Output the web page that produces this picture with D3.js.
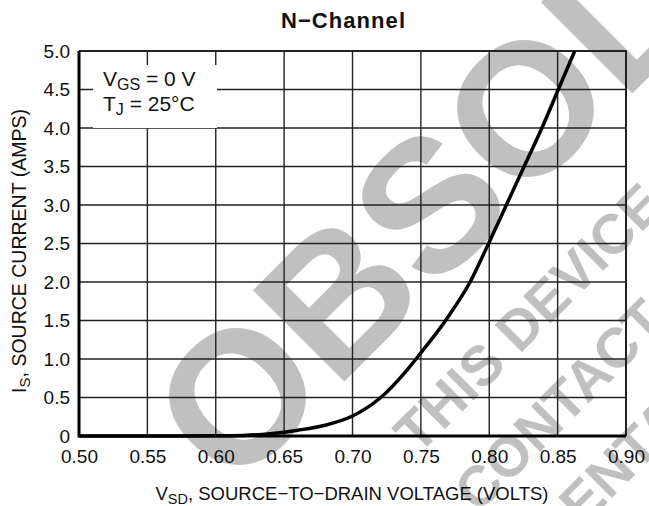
<!DOCTYPE html>
<html><head><meta charset="utf-8">
<script src="https://cdn.jsdelivr.net/npm/d3@7"></script>
<style>html,body{margin:0;padding:0;background:#fff}svg{display:block;font-family:"Liberation Sans",Arial,sans-serif}</style>
</head><body>
<svg id="c" width="649" height="506"></svg>
<script>
// ---- data ----
const vsd = [0.50,0.55,0.60,0.62,0.64,0.65,0.66,0.68,0.70,0.72,0.74,0.75,0.77,0.786,0.7995,0.8125,0.8255,0.8385,0.8505,0.8625];
const isrc = [0,0,0.003,0.008,0.03,0.05,0.075,0.14,0.26,0.49,0.86,1.08,1.55,2.0,2.5,3.0,3.5,4.0,4.5,5.0];
const xTicks = [0.50,0.55,0.60,0.65,0.70,0.75,0.80,0.85,0.90];
const yTicks = [0,0.5,1.0,1.5,2.0,2.5,3.0,3.5,4.0,4.5,5.0];
const titleText = "N\u2212Channel";
const watermark = ["OBSOLETE","THIS DEVICE IS OBSOLETE","CONTACT YOUR ON SEMICONDUCTOR","REPRESENTATIVE FOR INFORMATION"];

const svg = d3.select("#c");
const L=79,R=626,T=51,B=436;
const x = d3.scaleLinear().domain([0.5,0.9]).range([L,R]);
const y = d3.scaleLinear().domain([0,5]).range([B,T]);
const WF = "Liberation Sans, Arial, sans-serif";

// watermark (behind everything)
const wm = svg.append("g").attr("fill","#c0c0c0").attr("font-weight","bold").attr("font-family",WF);
wm.append("text").attr("transform","translate(232,494) rotate(-45)").attr("font-size",188).text(watermark[0]);
wm.append("text").attr("transform","translate(418,456) rotate(-45)").attr("font-size",56).text(watermark[1]);
wm.append("text").attr("transform","translate(478,514) rotate(-45)").attr("font-size",56).text(watermark[2]);
wm.append("text").attr("transform","translate(420,690) rotate(-45)").attr("font-size",56).text(watermark[3]);

// grid
const g = svg.append("g");
g.selectAll("line.v").data(xTicks.slice(1,-1)).join("line")
  .attr("x1",d=>x(d)).attr("x2",d=>x(d)).attr("y1",T).attr("y2",B)
  .attr("stroke","#222").attr("stroke-width",1.4);
g.selectAll("line.h").data(yTicks.slice(1,-1)).join("line")
  .attr("y1",d=>y(d)).attr("y2",d=>y(d)).attr("x1",L).attr("x2",R)
  .attr("stroke","#222").attr("stroke-width",1.4);
g.append("path").attr("d",`M${L},${T}H${R}V${B}`).attr("fill","none").attr("stroke","#222").attr("stroke-width",2);

// annotation box
svg.append("rect").attr("x",93).attr("y",65).attr("width",124).attr("height",63).attr("fill","#fff");
const ann = svg.append("g").attr("font-size",21).attr("fill","#111");
const a1 = ann.append("text").attr("x",103).attr("y",86);
a1.append("tspan").text("V");
a1.append("tspan").attr("font-size",16).attr("dy",4).text("GS");
a1.append("tspan").attr("dy",-4).text(" = 0 V");
const a2 = ann.append("text").attr("x",103).attr("y",111);
a2.append("tspan").text("T");
a2.append("tspan").attr("font-size",16).attr("dy",4).text("J");
a2.append("tspan").attr("dy",-4).text(" = 25\u00B0C");

// curve
const line = d3.line().x((d,i)=>x(vsd[i])).y((d,i)=>y(isrc[i])).curve(d3.curveMonotoneX);
svg.append("path").datum(isrc).attr("d",line).attr("fill","none").attr("stroke","#000").attr("stroke-width",3.5);

// axes left/bottom
svg.append("path").attr("d",`M${L},${T}V${B}H${R}`).attr("fill","none").attr("stroke","#000").attr("stroke-width",3);

// tick labels via axes
const xAxis = d3.axisBottom(x).tickValues(xTicks).tickFormat(d3.format(".2f")).tickSize(0).tickPadding(14);
const xa = svg.append("g").attr("transform",`translate(0,${B})`).call(xAxis);
xa.select(".domain").remove();
xa.attr("font-family",null).attr("font-size",null);
xa.selectAll("text").attr("font-size",19).attr("fill","#111");
const yAxis = d3.axisLeft(y).tickValues(yTicks).tickFormat(d=>d===0?"0":d3.format(".1f")(d)).tickSize(0).tickPadding(9);
const ya = svg.append("g").attr("transform",`translate(${L},0)`).call(yAxis);
ya.select(".domain").remove();
ya.attr("font-family",null).attr("font-size",null);
ya.selectAll("text").attr("font-size",19).attr("fill","#111");

// title
svg.append("text").attr("x",343).attr("y",28).attr("text-anchor","middle").attr("font-size",22).attr("font-weight","bold").attr("fill","#111").attr("textLength",124).text(titleText);

// x title
const xt = svg.append("text").attr("x",352).attr("y",500).attr("text-anchor","middle").attr("font-size",18.5).attr("fill","#111");
xt.append("tspan").text("V");
xt.append("tspan").attr("font-size",14.5).attr("dy",4).text("SD");
xt.append("tspan").attr("dy",-4).text(", SOURCE\u2212TO\u2212DRAIN VOLTAGE (VOLTS)");

// y title
const yt = svg.append("text").attr("transform",`translate(26,251) rotate(-90)`).attr("text-anchor","middle").attr("font-size",19.5).attr("fill","#111");
yt.append("tspan").text("I");
yt.append("tspan").attr("font-size",15).attr("dy",4).text("S");
yt.append("tspan").attr("dy",-4).text(", SOURCE CURRENT (AMPS)");
</script>
</body></html>
